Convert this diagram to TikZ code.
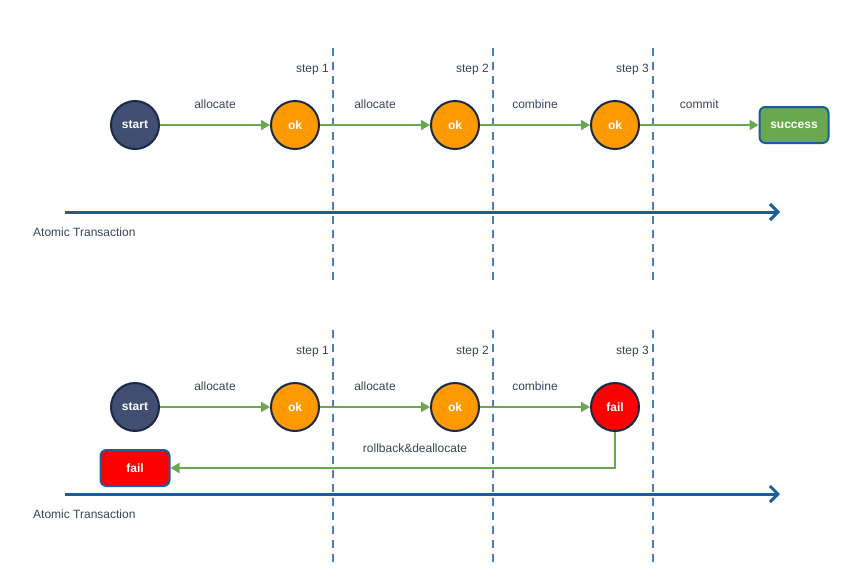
\documentclass[tikz,border=0pt]{standalone}
\usepackage{fontspec}
\setmainfont{Liberation Sans}
\usetikzlibrary{arrows.meta}
\definecolor{startblue}{HTML}{424D72}
\definecolor{rimdark}{HTML}{1A2945}
\definecolor{okorange}{HTML}{FF9900}
\definecolor{flowgreen}{HTML}{6AA84F}
\definecolor{timeblue}{HTML}{1B5E9E}
\definecolor{stepblue}{HTML}{4A7EB8}
\definecolor{labelgray}{HTML}{3A4456}
\tikzset{
STATE/.style={circle, draw=rimdark, line width=2pt, fill=#1, minimum size=48pt, inner sep=0pt, text=white, font=\bfseries\fontsize{12}{14}\selectfont},
STATE/.default=okorange,
ENDBOX/.style={rectangle, rounded corners=6pt, draw=timeblue, line width=2pt, fill=#1, minimum width=69pt, minimum height=36pt, text=white, font=\bfseries\fontsize{12}{14}\selectfont},
FLOW/.style={draw=flowgreen, line width=2pt, -{Triangle[length=9pt,width=10pt]}},
TIMELINE/.style={draw=timeblue, line width=3pt, -{Straight Barb[length=8pt,width=16pt,line width=3pt]}},
STEPLINE/.style={draw=stepblue, line width=2.5pt, dash pattern=on 8pt off 6pt},
LABEL/.style={text=labelgray, font=\fontsize{12}{14}\selectfont, inner sep=1pt},
}
\begin{document}
\begin{tikzpicture}
[x=1pt, y=-1pt]
	\useasboundingbox (0,0) rectangle (855,587);
	% step boundaries
	\foreach \sx/\sn in {333/1, 493/2, 653/3} {
		\draw[STEPLINE] (\sx,48) -- (\sx,280);
		\draw[STEPLINE] (\sx,330) -- (\sx,563);
		\node[LABEL, anchor=east] at (\sx-3,70) {step \sn};
		\node[LABEL, anchor=east] at (\sx-3,352) {step \sn};
	}
	% upper run
	\node[STATE=startblue] (start) at (135,125) {start};
	\node[STATE] (okA) at (295,125) {ok};
	\node[STATE] (okB) at (455,125) {ok};
	\node[STATE] (okC) at (615,125) {ok};
	\node[ENDBOX=flowgreen] (success) at (794,125) {success};
	\draw[FLOW] (start) -- node[LABEL, above=14pt] {allocate} (okA);
	\draw[FLOW] (okA) -- node[LABEL, above=14pt] {allocate} (okB);
	\draw[FLOW] (okB) -- node[LABEL, above=14pt] {combine} (okC);
	\draw[FLOW] (okC) -- node[LABEL, above=14pt] {commit} (success);
	\coordinate (timeA0) at (65,212);
	\coordinate (timeA1) at (780,212);
	\draw[TIMELINE] (timeA0) -- (timeA1);
	\node[LABEL, anchor=west] (atomA) at (32,232) {Atomic Transaction};
	% lower run
	\node[STATE=startblue] (start2) at (135,407) {start};
	\node[STATE] (okD) at (295,407) {ok};
	\node[STATE] (okE) at (455,407) {ok};
	\node[STATE=red] (failC) at (615,407) {fail};
	\node[ENDBOX=red] (failed) at (135,468) {fail};
	\draw[FLOW] (start2) -- node[LABEL, above=14pt] {allocate} (okD);
	\draw[FLOW] (okD) -- node[LABEL, above=14pt] {allocate} (okE);
	\draw[FLOW] (okE) -- node[LABEL, above=14pt] {combine} (failC);
	\draw[FLOW] (failC.south) |- (failed.east);
	\node[LABEL] (rollback) at (415,448) {rollback\&deallocate};
	\coordinate (timeB0) at (65,494);
	\coordinate (timeB1) at (780,494);
	\draw[TIMELINE] (timeB0) -- (timeB1);
	\node[LABEL, anchor=west] (atomB) at (32,514) {Atomic Transaction};
\end{tikzpicture}
\end{document}
